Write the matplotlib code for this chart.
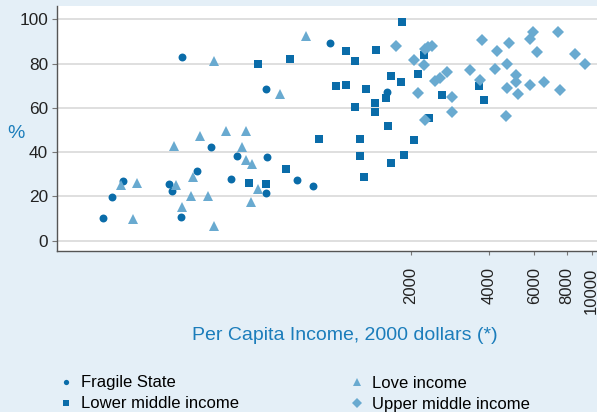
import matplotlib
matplotlib.use("Agg")
import matplotlib.pyplot as plt
from matplotlib.lines import Line2D
from matplotlib.ticker import FixedLocator, FixedFormatter, NullLocator

# ---------------- data ----------------
fragile_income = [262, 551, 155, 140, 130, 234, 240, 260, 299, 340, 405, 427, 557, 554, 728, 973, 839, 1620]
fragile_pct = [83.1, 68.7, 26.8, 19.8, 10.2, 25.7, 22.3, 10.8, 31.5, 42.4, 28.0, 38.2, 37.9, 21.5, 27.6, 89.2, 24.6, 67.0]

low_income = [349, 624, 243, 308, 387, 461, 445, 464, 486, 289, 248, 152, 175, 283, 329, 261, 169, 349, 483, 513, 786]
low_pct = [81.0, 66.3, 42.9, 47.3, 49.5, 49.7, 42.3, 36.4, 34.6, 28.9, 25.0, 25.2, 26.2, 20.1, 20.2, 15.1, 9.8, 6.8, 17.3, 23.5, 92.6]

lower_mid_income = [516, 686, 476, 552, 662, 1856, 1128, 1465, 1222, 1032, 1128, 1348, 1683, 1839, 2139, 2257,
                    1610, 1460, 1460, 1222, 1639, 888, 1278, 1278, 1683, 1889, 2065, 1324, 2649, 3681, 3848, 2353]
lower_mid_pct = [79.7, 81.9, 25.9, 25.6, 32.5, 98.6, 85.5, 86.0, 81.0, 69.7, 70.2, 68.4, 74.3, 71.5, 75.2, 83.7,
                 64.5, 62.1, 58.1, 60.3, 51.7, 45.8, 45.8, 38.3, 35.0, 38.6, 45.3, 28.8, 65.7, 69.7, 63.4, 55.3]

upper_mid_income = [1760, 2054, 2251, 2271, 2342, 2416, 2143, 2271, 2482, 2600, 2766, 2894, 2894, 3404, 3720, 3760,
                    4315, 4231, 4695, 4783, 5101, 5101, 4707, 5205, 4678, 5776, 5948, 6157, 5786, 6529, 7396, 7528,
                    8656, 9402]
upper_mid_pct = [87.8, 81.6, 79.2, 86.8, 87.6, 88.1, 66.8, 54.7, 72.2, 73.5, 76.4, 64.9, 58.1, 76.9, 72.5, 90.7,
                 85.8, 77.4, 79.9, 89.5, 75.0, 71.5, 69.0, 66.1, 56.4, 91.2, 94.4, 85.4, 70.1, 71.5, 94.4, 67.9,
                 84.3, 79.9]

x_ticks = [2000, 4000, 6000, 8000, 10000]
x_tick_labels = ["2000", "4000", "6000", "8000", "10000"]
y_ticks = [0, 20, 40, 60, 80, 100]

series_labels = ["Fragile State", "Lower middle income", "Love income", "Upper middle income"]

# ---------------- style ----------------
plt.rcParams['font.family'] = ['Liberation Sans', 'DejaVu Sans']
DARK = "#0a6ca9"
LIGHT = "#69aad0"
BG = "#e4eff7"
TXT_BLUE = "#1b7dbb"

fig = plt.figure(figsize=(5.97, 4.12), dpi=100, facecolor=BG)
W, H = 597.0, 412.0
ax = fig.add_axes([56.7 / W, 1 - 250.7 / H, (W - 56.7) / W, (250.7 - 6) / H])
ax.set_facecolor("white")

ax.plot(fragile_income, fragile_pct, linestyle="none", marker="o", ms=5.7, mew=0, color=DARK, zorder=3)
ax.plot(low_income, low_pct, linestyle="none", marker="^", ms=7.3, mew=0, color=LIGHT, zorder=4)
ax.plot(lower_mid_income, lower_mid_pct, linestyle="none", marker="s", ms=6.3, mew=0, color=DARK, zorder=5)
ax.plot(upper_mid_income, upper_mid_pct, linestyle="none", marker="D", ms=6.4, mew=0, color=LIGHT, zorder=6)

ax.set_xscale("log")
ax.set_xlim(86, 10480)
ax.set_ylim(-4.5, 106)

ax.xaxis.set_major_locator(FixedLocator(x_ticks))
ax.xaxis.set_major_formatter(FixedFormatter(x_tick_labels))
ax.xaxis.set_minor_locator(NullLocator())
ax.set_yticks(y_ticks)
ax.set_yticklabels([str(v) for v in y_ticks])

ax.tick_params(axis="x", direction="out", length=3, width=0.8, color="#777777", pad=9,
               labelsize=12, labelrotation=90, labelcolor="#222222")
ax.tick_params(axis="y", direction="out", length=3.6, width=0.8, color="#777777", pad=2.5,
               labelsize=12.4, labelcolor="#222222")

ax.grid(axis="y", color="#dcdcdc", linewidth=1.3, zorder=0)
ax.set_axisbelow(True)
for s in ["top", "right"]:
    ax.spines[s].set_visible(False)
for s in ["left", "bottom"]:
    ax.spines[s].set_color("#555555")
    ax.spines[s].set_linewidth(1.0)

ax.set_xlabel("Per Capita Income, 2000 dollars (*)", fontsize=14, color=TXT_BLUE, labelpad=11)
ax.xaxis.set_label_coords((345 - 56.7) / (W - 56.7), -(335 - 250.7) / 244.7)
ax.xaxis.label.set_va("center")
ax.set_ylabel("%", fontsize=14, color=TXT_BLUE, rotation=0, ha="center", va="center")
ax.yaxis.set_label_coords((16 - 56.7) / (W - 56.7), (250.7 - 133) / 244.7)

handles = [
    Line2D([], [], linestyle="none", marker="o", ms=3.8, mew=0, color=DARK),
    Line2D([], [], linestyle="none", marker="s", ms=4.2, mew=0, color=DARK),
    Line2D([], [], linestyle="none", marker="^", ms=6.3, mew=0, color=LIGHT),
    Line2D([], [], linestyle="none", marker="D", ms=5.2, mew=0, color=LIGHT),
]
fig.legend(handles, series_labels, ncol=2, loc="upper left",
           bbox_to_anchor=(57.7 / W, 1 - 375.5 / H), frameon=False,
           handlelength=1.0, handletextpad=0.4, columnspacing=6.6,
           borderpad=0, borderaxespad=0, labelspacing=0.36, fontsize=12)

fig.savefig("out.png", dpi=100, facecolor=BG)
